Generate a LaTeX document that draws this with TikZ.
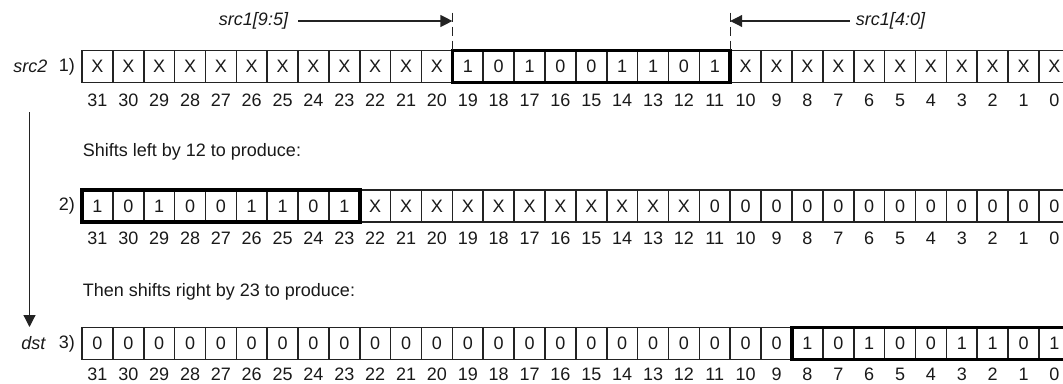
\documentclass[tikz,border=0pt]{standalone}
\usepackage{fontspec}
\setmainfont{Liberation Sans}
\usetikzlibrary{arrows.meta, positioning, calc}
\definecolor{colCell}{RGB}{35,35,35}
\definecolor{colText}{RGB}{25,25,25}
\tikzset{
    bitcell/.style={rectangle, draw=colCell, line width=1.6pt, minimum width=30.87pt,
        minimum height=32pt, inner sep=0pt, outer sep=0pt, text=colText,
        font=\fontsize{18}{20}\selectfont},
    bitnum/.style={inner sep=0pt, text=colText, font=\fontsize{18}{20}\selectfont},
    rowlabel/.style={inner sep=0pt, text=colText, font=\fontsize{18}{20}\selectfont},
    regname/.style={inner sep=0pt, text=colText, font=\fontsize{18}{20}\selectfont\itshape},
    note/.style={inner sep=0pt, anchor=west, text=colText, font=\fontsize{18}{20}\selectfont},
    field/.style={draw=black, line width=3.8pt},
    cutline/.style={draw=colCell, line width=1pt, dash pattern=on 9pt off 5pt},
    arrow/.style={-{Triangle[length=12pt, width=12pt]}, draw=colCell, line width=1.2pt}
}
\newcommand{\bitrow}[4]{% name, centre y, gap to numbers, values from bit 31 down
    \foreach \v [count=\i from 0] in {#4} {
        \pgfmathtruncatemacro{\b}{31-\i}
        \node[bitcell] (#1\b) at (97.4+\i*30.87, #2) {\v};
        \node[bitnum, below=#3 of #1\b] (#1n\b) {\b};
    }
}

\begin{document}
\begin{tikzpicture}[x=1pt, y=-1pt]
    \useasboundingbox (0,0) rectangle (1063,383);
    \clip (0,0) rectangle (1063,383);

    % row 1: src2 with the field taken from src1
    \bitrow{a}{66.5}{11pt}{X,X,X,X,X,X,X,X,X,X,X,X,1,0,1,0,0,1,1,0,1,X,X,X,X,X,X,X,X,X,X,X}
    \draw[field] (a19.north west) rectangle (a11.south east);

    % row 2: after the left shift
    \bitrow{b}{206}{10pt}{1,0,1,0,0,1,1,0,1,X,X,X,X,X,X,X,X,X,X,X,0,0,0,0,0,0,0,0,0,0,0,0}
    \draw[field] (b31.north west) rectangle (b23.south east);

    % row 3: dst after the right shift
    \bitrow{c}{343.5}{8pt}{0,0,0,0,0,0,0,0,0,0,0,0,0,0,0,0,0,0,0,0,0,0,0,1,0,1,0,0,1,1,0,1}
    \draw[field] (c8.north west) rectangle (c0.south east);

    \node[rowlabel, left=7pt of a31] (step1) {1)};
    \node[rowlabel, left=7pt of b31] (step2) {2)};
    \node[rowlabel, left=7pt of c31] (step3) {3)};
    \node[regname, left=11pt of step1] (src2) {src2};
    \node[regname, left=13pt of step3] (dst) {dst};

    \node[note] (shiftL) at (82.7,151.7) {Shifts left by 12 to produce:};
    \node[note] (shiftR) at (82.7,291.7) {Then shifts right by 23 to produce:};

    % field bounds from src1
    \node[regname] (srcHi) at (253.5,21) {src1[9:5]};
    \node[regname] (srcLo) at (890.5,21) {src1[4:0]};
    \coordinate (cutHi) at ($(a19.north west)+(0,-38)$);
    \coordinate (cutLo) at ($(a10.north west)+(0,-38)$);
    \draw[cutline] (cutHi) -- (a19.north west);
    \draw[cutline] (cutLo) -- (a10.north west);
    \draw[arrow] ([xshift=10pt]srcHi.east) -- (srcHi.east -| a19.north west);
    \draw[arrow] ([xshift=-6pt]srcLo.west) -- (srcLo.west -| a10.north west);

    % src2 becomes dst
    \coordinate (flowTop) at (29.5,112);
    \coordinate (flowEnd) at (29.5,327);
    \draw[arrow] (flowTop) -- (flowEnd);
\end{tikzpicture}
\end{document}
